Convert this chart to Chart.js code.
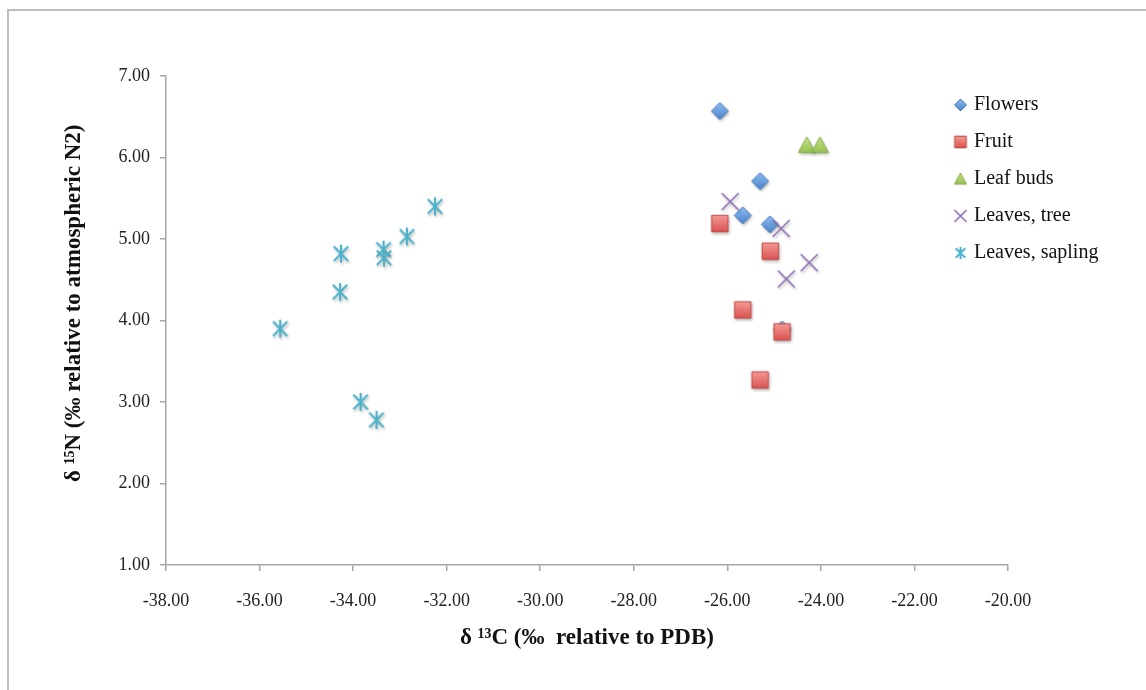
<!DOCTYPE html>
<html>
<head>
<meta charset="utf-8">
<title>δ13C vs δ15N</title>
<script src="https://cdn.jsdelivr.net/npm/chart.js@4.4.1/dist/chart.umd.min.js"></script>
<style>
    html, body { margin: 0; padding: 0; background: #fff; overflow: hidden; }
    #frame {
        position: absolute; left: 7px; top: 9px; width: 1300px; height: 900px;
        border: 2px solid #bdbdbd; box-sizing: border-box;
    }
    #chartCanvas { position: absolute; left: 0; top: 0; }
</style>
</head>
<body>
<div id="frame"></div>
<canvas id="chartCanvas" width="1146" height="690"></canvas>
<script>
// Serie (delta 13C, delta 15N)
const seriesNames = ['Flowers', 'Fruit', 'Leaf buds', 'Leaves, tree', 'Leaves, sapling'];

const flowersC = [-26.16, -25.30, -25.67, -25.09, -24.83];
const flowersN = [6.57, 5.71, 5.29, 5.18, 3.89];

const fruitC = [-26.16, -25.08, -25.67, -24.83, -25.30];
const fruitN = [5.19, 4.85, 4.13, 3.86, 3.27];

const budsC = [-24.30, -24.02];
const budsN = [6.15, 6.15];

const treeC = [-25.94, -24.85, -24.25, -24.74];
const treeN = [5.46, 5.13, 4.71, 4.51];

const saplingC = [-32.25, -32.85, -33.35, -33.34, -34.26, -34.28, -35.56, -33.84, -33.50];
const saplingN = [5.40, 5.03, 4.87, 4.77, 4.82, 4.35, 3.90, 3.00, 2.78];

// Assi
const xMin = -38, xMax = -20, xStep = 2;
const yMin = 1, yMax = 7, yStep = 1;
const xTitle = 'δ ¹³C (‰  relative to PDB)';
// spazi iniziali: il titolo nell'originale sta un po' sopra il centro
const yTitle = '\u00a0'.repeat(6) + 'δ ¹⁵N (‰ relative to atmospheric N2)';

const serif = "'Liberation Serif', 'Times New Roman', serif";

// Disegna un marcatore in un piccolo canvas (stile Excel con ombra)
function makeMark(kind, size, shadow) {
    const pad = 4;
    const c = document.createElement('canvas');
    c.width = size + pad * 2;
    c.height = size + pad * 2;
    const ctx = c.getContext('2d');
    const m = c.width / 2;
    const h = size / 2;
    if (shadow) {
        ctx.shadowColor = 'rgba(0,0,0,0.28)';
        ctx.shadowBlur = 3;
        ctx.shadowOffsetX = 1;
        ctx.shadowOffsetY = 2;
    }
    function fillGrad(top, bottom, stroke) {
        const g = ctx.createLinearGradient(0, m - h, 0, m + h);
        g.addColorStop(0, top);
        g.addColorStop(1, bottom);
        ctx.fillStyle = g;
        ctx.fill();
        ctx.shadowColor = 'transparent';
        ctx.lineWidth = 1;
        ctx.strokeStyle = stroke;
        ctx.stroke();
    }
    ctx.beginPath();
    if (kind === 'diamond') {
        ctx.moveTo(m, m - h);
        ctx.lineTo(m + h, m);
        ctx.lineTo(m, m + h);
        ctx.lineTo(m - h, m);
        ctx.closePath();
        fillGrad('#8dbcf0', '#4a83cc', '#3f73b5');
    } else if (kind === 'square') {
        const s = h * 0.97;
        ctx.rect(m - s, m - s, s * 2, s * 2);
        fillGrad('#f59a96', '#d9524e', '#b9443f');
    } else if (kind === 'triangle') {
        ctx.moveTo(m, m - h);
        ctx.lineTo(m + h, m + h * 0.85);
        ctx.lineTo(m - h, m + h * 0.85);
        ctx.closePath();
        fillGrad('#c6e58a', '#93bf4e', '#82a946');
    } else if (kind === 'cross') {
        ctx.moveTo(m - h, m - h); ctx.lineTo(m + h, m + h);
        ctx.moveTo(m + h, m - h); ctx.lineTo(m - h, m + h);
        ctx.lineWidth = 1.6;
        ctx.strokeStyle = '#8c6cb3';
        ctx.stroke();
    } else if (kind === 'asterisk') {
        const d = h * 0.8;
        ctx.moveTo(m, m - h); ctx.lineTo(m, m + h);
        ctx.moveTo(m - d, m - d); ctx.lineTo(m + d, m + d);
        ctx.moveTo(m + d, m - d); ctx.lineTo(m - d, m + d);
        ctx.lineWidth = 2;
        ctx.strokeStyle = '#4ab3cc';
        ctx.stroke();
    }
    return c;
}

const kinds = ['diamond', 'square', 'triangle', 'cross', 'asterisk'];
const chartMarks = kinds.map((k) => makeMark(k, k === 'asterisk' ? 18 : 17, true));
const legendMarks = kinds.map((k) => makeMark(k, 12, false));

function toPoints(xs, ys) {
    return xs.map((x, i) => ({ x: x, y: ys[i] }));
}

const allSeries = [
    toPoints(flowersC, flowersN),
    toPoints(fruitC, fruitN),
    toPoints(budsC, budsN),
    toPoints(treeC, treeN),
    toPoints(saplingC, saplingN)
];

// Le serie successive vengono disegnate sopra, come in Excel
const datasets = allSeries.map((pts, i) => ({
    label: seriesNames[i],
    data: pts,
    pointStyle: chartMarks[i],
    pointRadius: 8,
    pointHoverRadius: 8,
    order: allSeries.length - i
}));

// Legenda: non occupa spazio, va posizionata dentro l'area del grafico
const legendSpot = {
    id: 'legendSpot',
    beforeLayout(chart) {
        const lg = chart.legend;
        if (!lg || lg._spot) return;
        lg._spot = true;
        const fit = lg.fit;
        lg.fit = function () {
            fit.call(this);
            this.width = 0;
        };
    },
    afterLayout(chart) {
        const lg = chart.legend;
        const area = chart.chartArea;
        lg.left = area.right - 68;
        lg.right = lg.left + 200;
        lg.width = 200;
        lg.top = area.top + 2;
        lg.bottom = lg.top + 240;
        lg.height = 240;
    }
};

const axisGrey = '#a6a6a6';

const chart = new Chart(document.getElementById('chartCanvas').getContext('2d'), {
    type: 'scatter',
    data: { datasets: datasets },
    plugins: [legendSpot],
    options: {
        responsive: false,
        animation: false,
        events: [],
        layout: { padding: { left: 56, top: 76, right: 138, bottom: 34 } },
        scales: {
            x: {
                type: 'linear',
                min: xMin,
                max: xMax,
                ticks: {
                    stepSize: xStep,
                    padding: 19,
                    color: '#222',
                    font: { family: serif, size: 18 },
                    callback: (v) => v.toFixed(2)
                },
                grid: { drawOnChartArea: false, drawTicks: true, tickLength: 6, color: axisGrey, lineWidth: 1.5 },
                border: { color: axisGrey, width: 1.5 },
                title: {
                    display: true,
                    text: xTitle,
                    color: '#111',
                    padding: 4,
                    font: { family: serif, size: 23, weight: 'bold' }
                },
                afterFit: (scale) => { scale.height = 91; }
            },
            y: {
                type: 'linear',
                min: yMin,
                max: yMax,
                ticks: {
                    stepSize: yStep,
                    padding: 10,
                    color: '#222',
                    font: { family: serif, size: 18 },
                    callback: (v) => v.toFixed(2)
                },
                grid: { drawOnChartArea: false, drawTicks: true, tickLength: 6, color: axisGrey, lineWidth: 1.5 },
                border: { color: axisGrey, width: 1.5 },
                title: {
                    display: true,
                    text: yTitle,
                    color: '#111',
                    padding: 4,
                    font: { family: serif, size: 23, weight: 'bold' }
                },
                afterFit: (scale) => { scale.width = 110; }
            }
        },
        plugins: {
            tooltip: { enabled: false },
            legend: {
                position: 'right',
                align: 'start',
                labels: {
                    usePointStyle: true,
                    boxWidth: 7,
                    padding: 17,
                    color: '#111',
                    font: { family: serif, size: 20 },
                    sort: (a, b) => a.datasetIndex - b.datasetIndex,
                    generateLabels: (c) => {
                        const items = Chart.defaults.plugins.legend.labels.generateLabels(c);
                        items.forEach((it) => { it.pointStyle = legendMarks[it.datasetIndex]; });
                        return items;
                    }
                }
            }
        }
    }
});
</script>
</body>
</html>
